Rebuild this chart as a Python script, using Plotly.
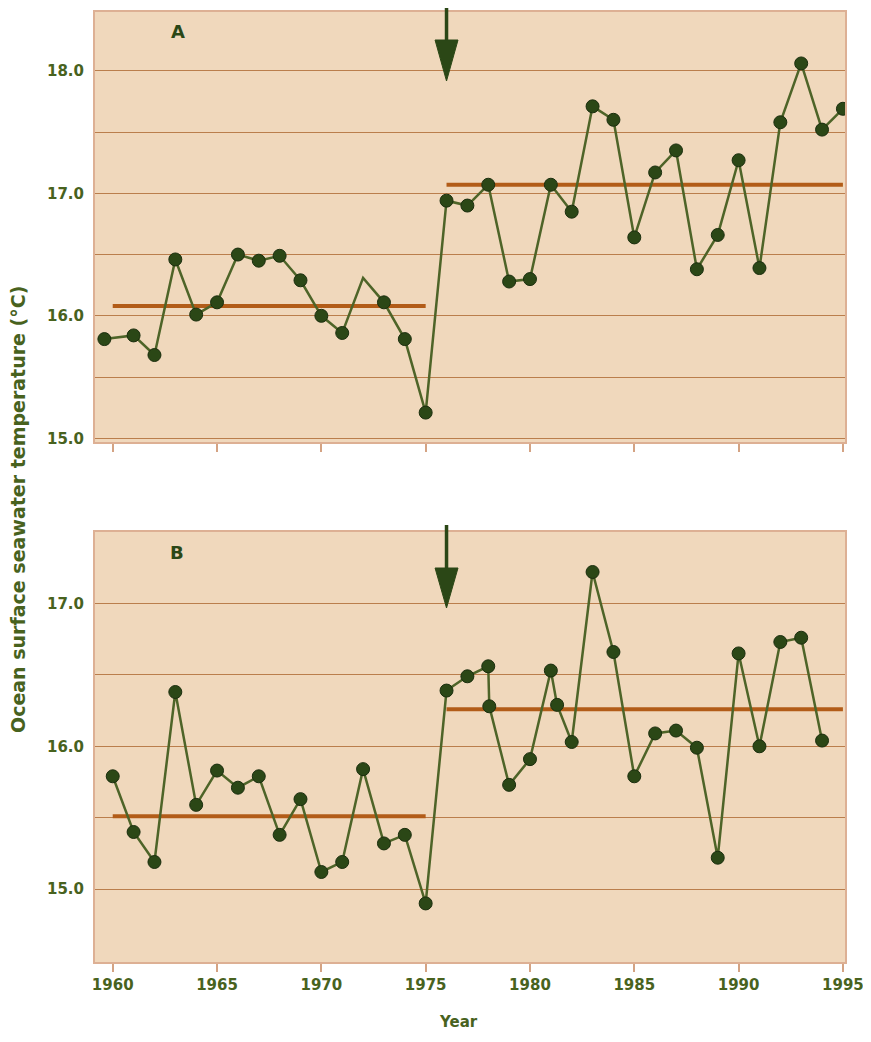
import plotly.graph_objects as go

# ---------------- data ----------------
# Panel A
years_a = [1959.6, 1961, 1962, 1963, 1964, 1965, 1966, 1967, 1968, 1969, 1970,
           1971, 1972, 1973, 1974, 1975, 1976, 1977, 1978, 1979, 1980, 1981,
           1982, 1983, 1984, 1985, 1986, 1987, 1988, 1989, 1990, 1991, 1992,
           1993, 1994, 1995]
temps_a = [15.81, 15.84, 15.68, 16.46, 16.01, 16.11, 16.50, 16.45, 16.49, 16.29,
           16.00, 15.86, 16.31, 16.11, 15.81, 15.21, 16.94, 16.90, 17.07, 16.28,
           16.30, 17.07, 16.85, 17.71, 17.60, 16.64, 17.17, 17.35, 16.38, 16.66,
           17.27, 16.39, 17.58, 18.06, 17.52, 17.69]
unmarked_year_a = 1972

# Panel B
years_b = [1960, 1961, 1962, 1963, 1964, 1965, 1966, 1967, 1968, 1969, 1970,
           1971, 1972, 1973, 1974, 1975, 1976, 1977, 1978, 1978.05, 1979, 1980,
           1981, 1981.3, 1982, 1983, 1984, 1985, 1986, 1987, 1988, 1989, 1990,
           1991, 1992, 1993, 1994]
temps_b = [15.79, 15.40, 15.19, 16.38, 15.59, 15.83, 15.71, 15.79, 15.38, 15.63,
           15.12, 15.19, 15.84, 15.32, 15.38, 14.90, 16.39, 16.49, 16.56, 16.28,
           15.73, 15.91, 16.53, 16.29, 16.03, 17.22, 16.66, 15.79, 16.09, 16.11,
           15.99, 15.22, 16.65, 16.00, 16.73, 16.76, 16.04]

# Period means (start year, end year, mean)
period_starts = [1960, 1976]
period_ends = [1975, 1995]
means_a = [16.08, 17.07]
means_b = [15.51, 16.26]

shift_year = 1976

x_tickvals = [1960, 1965, 1970, 1975, 1980, 1985, 1990, 1995]
x_ticktext = ["1960", "1965", "1970", "1975", "1980", "1985", "1990", "1995"]
ya_tickvals = [15.0, 15.5, 16.0, 16.5, 17.0, 17.5, 18.0]
ya_ticktext = ["15.0", "", "16.0", "", "17.0", "", "18.0"]
yb_tickvals = [15.0, 15.5, 16.0, 16.5, 17.0]
yb_ticktext = ["15.0", "", "16.0", "", "17.0"]

# ---------------- style ----------------
BG = "#F0D8BC"
GRID = "#BA7E4C"
BORDER = "#DDB094"
MEAN = "#B25C18"
LINE = "#4E6428"
MARK = "#2B4716"
TXT = "#48621E"
FONT = "DejaVu Sans"

OFF = 8                      # page body margin
W, H = 871 - OFF, 1042 - 2 * OFF
PL, PR, PT, PB = 95, 845, 12, 962   # plot area in page pixels
ML, MR, MT, MB = PL - OFF, W - (PR - OFF), PT - OFF, H - (PB - OFF)
PH = H - MT - MB


def py(px):
    """page pixel row -> paper fraction"""
    return (PB - px) / PH


def pxx(px):
    return (px - PL) / (PR - PL)


fig = go.Figure()

sizes_a = [0 if y == unmarked_year_a else 13 for y in years_a]

for means, xa, ya in [(means_a, "x", "y"), (means_b, "x2", "y2")]:
    for s, e, m in zip(period_starts, period_ends, means):
        fig.add_trace(go.Scatter(
            x=[s, e], y=[m, m], mode="lines", xaxis=xa, yaxis=ya,
            line=dict(color=MEAN, width=4), showlegend=False, hoverinfo="skip",
        ))

for yrs, tmp, sizes, xa, ya in [
    (years_a, temps_a, sizes_a, "x", "y"),
    (years_b, temps_b, [13] * len(years_b), "x2", "y2"),
]:
    fig.add_trace(go.Scatter(
        x=yrs, y=tmp, mode="lines+markers", xaxis=xa, yaxis=ya,
        line=dict(color=LINE, width=2.5),
        marker=dict(size=sizes, color=MARK, opacity=1,
                    line=dict(color="#1B2E0E", width=1)),
        showlegend=False, hoverinfo="x+y",
    ))

xcommon = dict(range=[1959.15, 1995.1], tickvals=x_tickvals, ticktext=x_ticktext,
               ticks="outside", ticklen=8, tickwidth=1.5, tickcolor="#D4A383",
               showgrid=False, zeroline=False, showline=True, mirror=True,
               linecolor=BORDER, linewidth=2, automargin=False,
               ticklabeloverflow="allow",
               tickfont=dict(family=FONT, size=15, color=TXT, weight="bold"))
ycommon = dict(ticks="", showgrid=True, gridcolor=GRID, gridwidth=1.3,
               zeroline=False, showline=True, mirror=True, linecolor=BORDER,
               linewidth=2, automargin=False, ticklabelstandoff=6,
               tickfont=dict(family=FONT, size=15, color=TXT, weight="bold"))

fig.update_layout(
    width=W, height=H,
    margin=dict(l=ML, r=MR, t=MT, b=MB),
    paper_bgcolor="white", plot_bgcolor=BG,
    xaxis=dict(xcommon, domain=[0, 1], anchor="y", showticklabels=False),
    yaxis=dict(ycommon, domain=[py(442), 1.0], anchor="x", range=[14.97, 18.48],
               tickvals=ya_tickvals, ticktext=ya_ticktext),
    xaxis2=dict(xcommon, domain=[0, 1], anchor="y2"),
    yaxis2=dict(ycommon, domain=[0, py(532)], anchor="x2", range=[14.49, 17.5],
                tickvals=yb_tickvals, ticktext=yb_ticktext),
)

# Arrows marking the 1976 shift
for xref, top_px, head_px, tip_px in [("x", 8, 40, 81), ("x2", 525, 568, 608)]:
    fig.add_shape(type="line", xref=xref, yref="paper",
                  x0=shift_year, x1=shift_year, y0=py(top_px), y1=py(head_px + 5),
                  line=dict(color=MARK, width=3.5))
    fig.add_shape(type="path", xref=xref, yref="paper",
                  path=f"M {shift_year - 0.55},{py(head_px)} L {shift_year + 0.55},{py(head_px)} "
                       f"L {shift_year},{py(tip_px)} Z",
                  fillcolor=MARK, line=dict(color=MARK, width=1))

# Panel letters
for txt, xp, yp in [("A", 178, 32), ("B", 177, 552)]:
    fig.add_annotation(text=txt, xref="paper", yref="paper", x=pxx(xp), y=py(yp),
                       showarrow=False, xanchor="center", yanchor="middle",
                       font=dict(family=FONT, size=18, color=MARK, weight="bold"))

# Axis titles
fig.add_annotation(text="Ocean surface seawater temperature (°C)", xref="paper",
                   yref="paper", x=pxx(18), y=py(510), textangle=-90,
                   showarrow=False, xanchor="center", yanchor="middle",
                   font=dict(family=FONT, size=19, color=TXT, weight="bold"))
fig.add_annotation(text="Year", xref="paper", yref="paper", x=pxx(458), y=py(1022),
                   showarrow=False, xanchor="center", yanchor="middle",
                   font=dict(family=FONT, size=15, color=TXT, weight="bold"))

fig.write_html("out.html")
